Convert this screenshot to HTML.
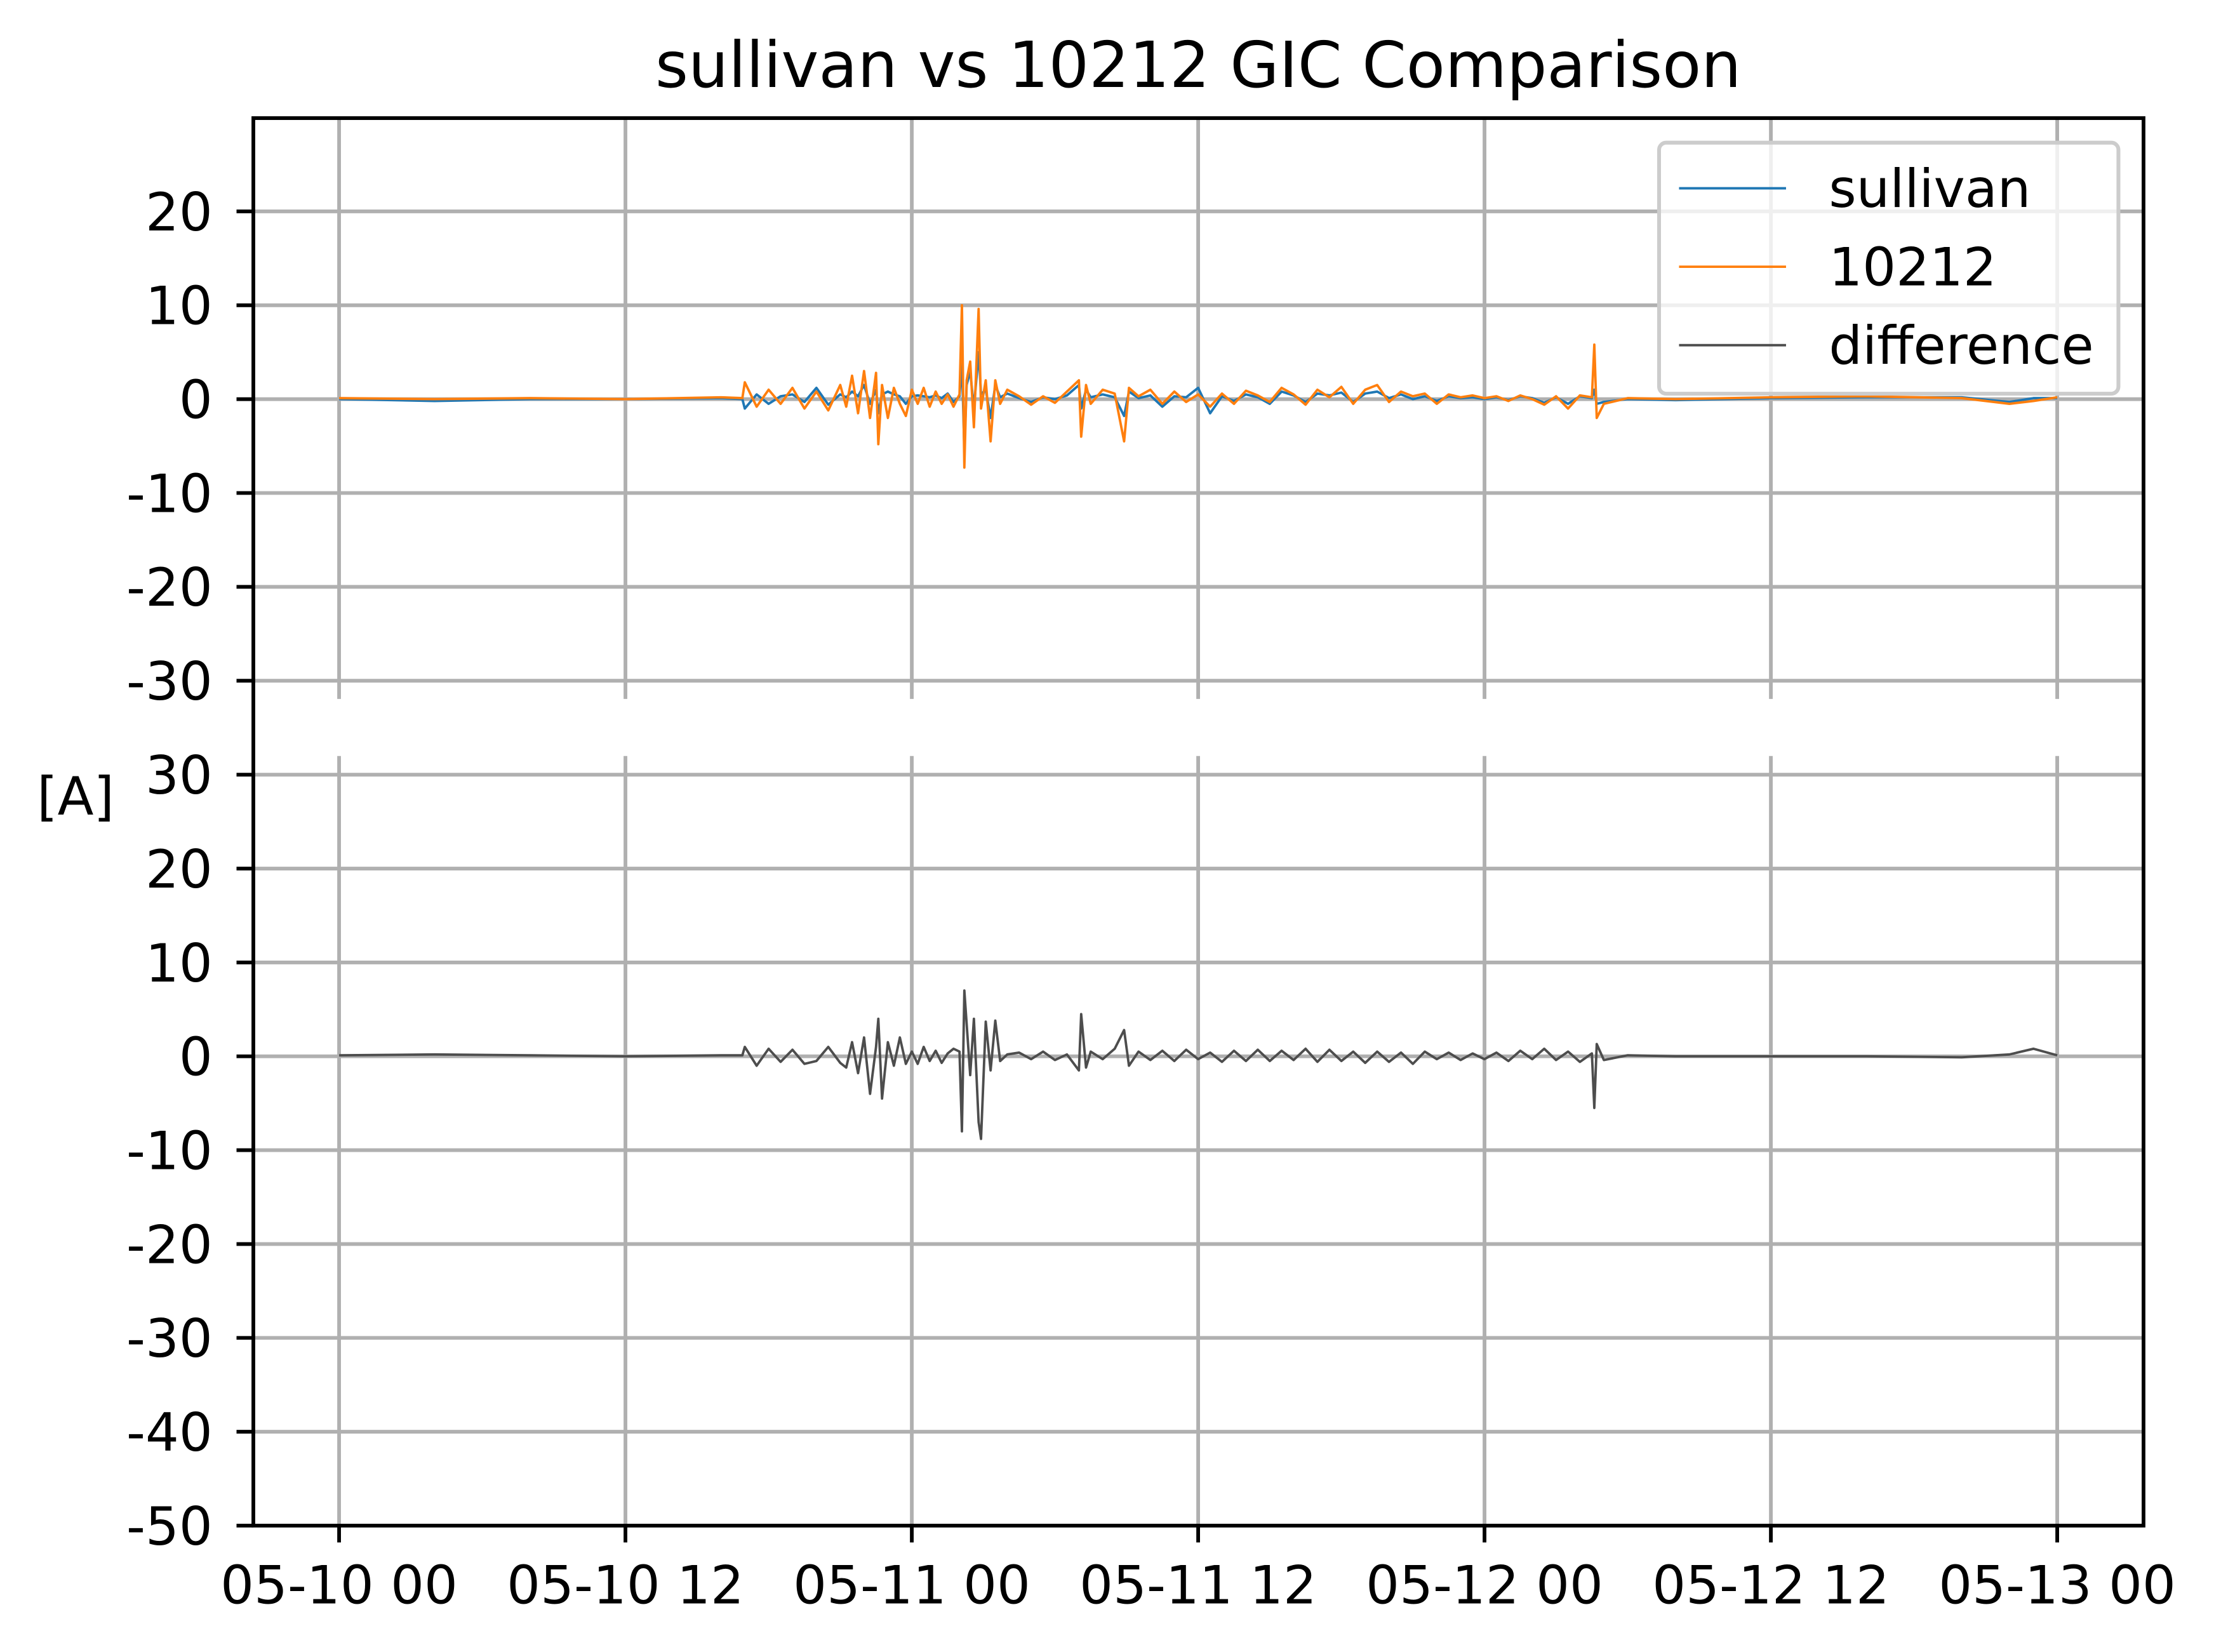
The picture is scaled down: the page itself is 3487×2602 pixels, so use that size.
<!DOCTYPE html>
<html><head><meta charset="utf-8"><style>
html,body{margin:0;padding:0;background:#fff}
svg{display:block}
text{font-family:"DejaVu Sans","Liberation Sans",sans-serif;fill:#000}
</style></head><body>
<svg id="chart" width="3487" height="2602" viewBox="0 0 1552 1158.1" preserveAspectRatio="none" xmlns="http://www.w3.org/2000/svg">
<rect x="0" y="0" width="1552" height="1159" fill="#fff"/>
<g id="grid"></g>
<g id="series"></g>
<g id="axes"></g>
<text x="840" y="61" font-size="44.4" text-anchor="middle">sullivan vs 10212 GIC Comparison</text>
<text x="53" y="571" font-size="37" text-anchor="middle">[A]</text>
<g>
<rect x="1163" y="100" width="322" height="176" rx="5" fill="#fff" fill-opacity="0.8" stroke="#cccccc" stroke-width="2.7"/>
<g><line x1="1177" y1="132" x2="1252" y2="132" stroke="#1f77b4" stroke-width="1.7"/><text x="1282" y="145" font-size="37">sullivan</text></g>
<g><line x1="1177" y1="187" x2="1252" y2="187" stroke="#ff7f0e" stroke-width="1.7"/><text x="1282" y="200" font-size="37">10212</text></g>
<g><line x1="1177" y1="242" x2="1252" y2="242" stroke="#4d4d4d" stroke-width="1.7"/><text x="1282" y="255" font-size="37">difference</text></g>
</g>
</svg>
<script>
const hours=[0,4,8,12,16,16.9,17,17.5,18,18.5,19,19.5,20,20.5,21,21.25,21.5,21.75,22,22.25,22.5,22.6,22.75,23,23.25,23.5,23.75,24,24.25,24.5,24.75,25,25.25,25.5,25.75,26,26.1,26.2,26.3,26.45,26.6,26.8,26.9,27.1,27.3,27.5,27.7,28,28.5,29,29.5,30,30.5,31,31.1,31.3,31.5,32,32.5,32.9,33.1,33.5,34,34.5,35,35.5,36,36.5,37,37.5,38,38.5,39,39.5,40,40.5,41,41.5,42,42.5,43,43.5,44,44.5,45,45.5,46,46.5,47,47.5,48,48.5,49,49.5,50,50.5,51,51.5,52,52.5,52.6,52.7,53,54,56,60,64,68,70,71,72];
const gic10212=[0.1,0,0.1,0,0.2,0.1,1.8,-0.8,1.0,-0.5,1.2,-1.0,0.8,-1.2,1.5,-0.8,2.5,-1.5,3.0,-2.0,2.8,-4.8,1.5,-2.0,1.2,-0.5,-1.8,1.0,-0.5,1.2,-0.8,0.8,-0.5,0.5,-0.8,0.5,10.0,-7.3,2.0,4.0,-3.0,9.6,-1.0,2.0,-4.5,2.0,-0.5,1.0,0.3,-0.6,0.3,-0.4,0.8,2.0,-4.0,1.5,-0.5,1.0,0.6,-4.5,1.2,0.3,1.0,-0.5,0.8,-0.3,0.5,-0.8,0.6,-0.5,0.9,0.4,-0.3,1.2,0.5,-0.6,1.0,0.2,1.3,-0.5,1.0,1.5,-0.3,0.8,0.3,0.6,-0.5,0.5,0.2,0.4,0.1,0.3,-0.2,0.4,0.0,-0.6,0.3,-1.0,0.4,0.2,5.8,-2.0,-0.5,0.1,0.0,0.2,0.3,0.1,-0.5,-0.2,0.2];
const sullivan=[0,-0.2,0,0,0.1,0,-1,0.5,-0.5,0.3,0.5,-0.3,1.2,-0.6,0.5,0.2,0.8,0.3,1.5,-0.5,1.0,-1.5,0.5,0.8,0.5,0.3,-0.5,0.3,0.4,0.3,0.2,0.4,0.1,0.6,-0.3,0.3,4.0,-5.5,1.5,3.0,-1.0,5.0,0.5,1.0,-2.0,1.5,0.2,0.6,0.1,-0.3,0.2,0.0,0.4,1.5,-1.0,1.0,0.2,0.5,0.2,-1.8,0.8,0.1,0.4,-0.8,0.3,0.2,1.2,-1.5,0.3,-0.2,0.5,0.2,-0.5,0.8,0.4,-0.3,0.6,0.4,0.7,-0.3,0.6,0.8,0.1,0.5,0.0,0.3,-0.2,0.3,0.1,0.2,0.0,0.2,-0.1,0.3,0.1,-0.4,0.2,-0.5,0.3,0.1,1.0,-0.5,-0.3,0.0,-0.1,0.1,0.2,0.2,-0.3,0.1,0.1];
const difference=[0.1,0.2,0.1,0,0.1,0.1,1,-1,0.8,-0.6,0.7,-0.8,-0.5,1.0,-0.7,-1.2,1.5,-1.8,2.0,-4.0,1.0,4.0,-4.5,1.5,-1.0,2.0,-0.8,0.5,-0.8,1.0,-0.5,0.6,-0.7,0.3,0.8,0.5,-8.0,7.0,3.5,-2.0,4.0,-7.0,-8.8,3.7,-1.5,3.8,-0.5,0.2,0.4,-0.3,0.5,-0.4,0.2,-1.5,4.5,-1.2,0.5,-0.3,0.8,2.8,-1.0,0.5,-0.4,0.6,-0.5,0.7,-0.3,0.4,-0.6,0.6,-0.5,0.7,-0.5,0.6,-0.4,0.8,-0.6,0.7,-0.5,0.5,-0.7,0.5,-0.6,0.4,-0.8,0.5,-0.3,0.4,-0.4,0.3,-0.3,0.4,-0.5,0.6,-0.3,0.8,-0.4,0.5,-0.6,0.3,-5.5,1.3,-0.4,0.1,0.0,0.0,0.0,-0.1,0.2,0.8,0.1];
const xTickHours=[0,12,24,36,48,60,72];
const xTickLabels=["05-10 00","05-10 12","05-11 00","05-11 12","05-12 00","05-12 12","05-13 00"];
const topTicks=[20,10,0,-10,-20,-30];
const bottomTicks=[30,20,10,0,-10,-20,-30,-40,-50];

const NS="http://www.w3.org/2000/svg";
const X0=177.6,X1=1502.6,YT=82.8,YB=1069.5,TOPEND=490,BOTSTART=530;
const GW=2.6;
function xs(h){return 237.7+h*(1442.1-237.7)/72;}
function yTop(v){return 279.8-v*6.58;}
function yBot(v){return 740.5-v*6.58;}
function mk(tag,attrs,parent){const e=document.createElementNS(NS,tag);for(const k in attrs)e.setAttribute(k,attrs[k]);parent.appendChild(e);return e;}
const grid=document.getElementById('grid'),axes=document.getElementById('axes'),ser=document.getElementById('series');
xTickHours.forEach((h,i)=>{
  let l=mk('line',{x1:xs(h),x2:xs(h),y1:YT,y2:TOPEND,stroke:'#b0b0b0','stroke-width':GW},grid);
  
  
  let l2=mk('line',{x1:xs(h),x2:xs(h),y1:BOTSTART,y2:YB,stroke:'#b0b0b0','stroke-width':GW},grid);
  
  
  let t=mk('line',{x1:xs(h),x2:xs(h),y1:YB,y2:YB+11.8,stroke:'#000','stroke-width':GW},axes);
  
  
  let tx=mk('text',{x:xs(h),y:1124,'font-size':37,'text-anchor':'middle'},axes);
  tx.textContent=xTickLabels[i];
  
  
});
function yTicks(ticks,fy,nm){
  ticks.forEach(v=>{
    let g=mk('line',{x1:X0,x2:X1,y1:fy(v),y2:fy(v),stroke:'#b0b0b0','stroke-width':GW},grid);
    
    
    let t=mk('line',{x1:X0-11.8,x2:X0,y1:fy(v),y2:fy(v),stroke:'#000','stroke-width':GW},axes);
    
    
    let tx=mk('text',{x:149,y:fy(v)+13.3,'font-size':37,'text-anchor':'end'},axes);
    tx.textContent=String(v);
    
    
  });
}
yTicks(topTicks,yTop,'top');
yTicks(bottomTicks,yBot,'bottom');
const frame=mk('rect',{x:X0,y:YT,width:X1-X0,height:YB-YT,fill:'none',stroke:'#000','stroke-width':GW},axes);


function line(vals,fy,color,nm){
  const d=hours.map((h,i)=>(i?'L':'M')+xs(h).toFixed(1)+','+fy(vals[i]).toFixed(1)).join('');
  const p=mk('path',{d:d,fill:'none',stroke:color,'stroke-width':1.7,'stroke-linejoin':'round'},ser);
  
  
}
line(sullivan,yTop,'#1f77b4','sullivan-line');
line(gic10212,yTop,'#ff7f0e','gic-10212-line');
line(difference,yBot,'#4d4d4d','difference-line');
</script>
</body></html>
